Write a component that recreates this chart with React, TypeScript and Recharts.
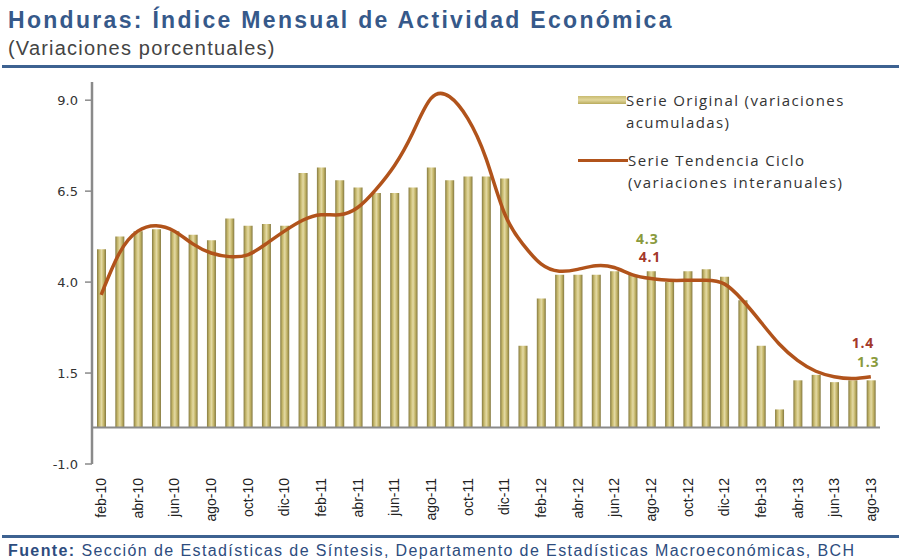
import React from 'react';
import {
  ComposedChart,
  Bar,
  Line,
  XAxis,
  YAxis,
  Legend,
  LabelList,
  ReferenceLine,
} from 'recharts';

// meses feb-10 .. ago-13
const months = [
  'feb-10', 'mar-10', 'abr-10', 'may-10', 'jun-10', 'jul-10', 'ago-10', 'sep-10', 'oct-10', 'nov-10', 'dic-10',
  'ene-11', 'feb-11', 'mar-11', 'abr-11', 'may-11', 'jun-11', 'jul-11', 'ago-11', 'sep-11', 'oct-11', 'nov-11', 'dic-11',
  'ene-12', 'feb-12', 'mar-12', 'abr-12', 'may-12', 'jun-12', 'jul-12', 'ago-12', 'sep-12', 'oct-12', 'nov-12', 'dic-12',
  'ene-13', 'feb-13', 'mar-13', 'abr-13', 'may-13', 'jun-13', 'jul-13', 'ago-13',
];

// Serie Original (variaciones acumuladas)
const serieOriginal = [
  4.9, 5.25, 5.4, 5.45, 5.4, 5.3, 5.15, 5.75, 5.55, 5.6, 5.55,
  7.0, 7.15, 6.8, 6.6, 6.45, 6.45, 6.6, 7.15, 6.8, 6.9, 6.9, 6.85,
  2.25, 3.55, 4.2, 4.2, 4.2, 4.3, 4.2, 4.3, 4.0, 4.3, 4.35, 4.15,
  3.5, 2.25, 0.5, 1.3, 1.45, 1.25, 1.3, 1.3,
];

// Serie Tendencia Ciclo (variaciones interanuales)
const serieTendencia = [
  3.65, 4.8, 5.4, 5.55, 5.4, 5.05, 4.8, 4.7, 4.75, 5.05, 5.4,
  5.7, 5.85, 5.85, 6.05, 6.55, 7.2, 8.1, 9.05, 9.1, 8.5, 7.4, 5.9,
  5.05, 4.5, 4.3, 4.35, 4.45, 4.4, 4.2, 4.1, 4.05, 4.05, 4.05, 3.95,
  3.5, 2.9, 2.3, 1.85, 1.55, 1.4, 1.35, 1.4,
];

const yTicks = [-1, 1.5, 4, 6.5, 9];

// meses con valor rotulado
const notedMonths = ['ago-12', 'ago-13'];

const data = months.map((m, i) => ({
  mes: m,
  original: serieOriginal[i],
  tendencia: serieTendencia[i],
}));

const BLUE = '#36598a';
const GREEN_NOTE = '#8a9a3c';
const RED_NOTE = '#a3382a';

// desplazamientos de los rótulos (solo estilo)
const barNoteOffset: Record<string, [number, number]> = { 'ago-12': [-4, -27], 'ago-13': [-3, -13] };
const lineNoteOffset: Record<string, [number, number]> = { 'ago-12': [-1, -16], 'ago-13': [-8, -29] };

const noteStyle = {
  fontFamily: '"Open Sans", sans-serif',
  fontWeight: 700,
  fontSize: 14,
  letterSpacing: 0.8,
};

const renderBarNote = (props: any) => {
  const { x, y, width, value, index } = props;
  const m = months[index];
  if (!notedMonths.includes(m)) return null;
  const [dx, dy] = barNoteOffset[m];
  return (
    <text x={x + width / 2 + dx} y={y + dy} textAnchor="middle" fill={GREEN_NOTE} style={noteStyle}>
      {Number(value).toFixed(1)}
    </text>
  );
};

const renderLineNote = (props: any) => {
  const { x, y, value, index } = props;
  const m = months[index];
  if (!notedMonths.includes(m)) return null;
  const [dx, dy] = lineNoteOffset[m];
  return (
    <text x={x + dx} y={y + dy} textAnchor="middle" fill={RED_NOTE} style={noteStyle}>
      {Number(value).toFixed(1)}
    </text>
  );
};

const MonthTick = (props: any) => {
  const { x, y, payload } = props;
  return (
    <text
      x={0}
      y={0}
      transform={`translate(${x + 5}, ${y + 6}) rotate(-90)`}
      textAnchor="end"
      fill="#222"
      style={{ fontFamily: '"Liberation Sans Narrow", "Liberation Sans", sans-serif', fontSize: 14 }}
    >
      {payload.value}
    </text>
  );
};

const LegendBox = () => {
  const txt: React.CSSProperties = {
    fontFamily: '"Open Sans", sans-serif',
    fontSize: 15,
    color: '#333',
    lineHeight: '22px',
    letterSpacing: 1.4,
  };
  return (
    <div>
      <div style={{ display: 'flex', alignItems: 'flex-start' }}>
        <div
          style={{
            width: 48,
            height: 8,
            marginTop: 7,
            background: 'linear-gradient(180deg, #c8bb70 0%, #e2d79c 50%, #b9ab5c 100%)',
          }}
        />
        <div style={txt}>
          Serie Original (variaciones
          <br />
          acumuladas)
        </div>
      </div>
      <div style={{ display: 'flex', alignItems: 'flex-start', marginTop: 16 }}>
        <div style={{ width: 50, height: 3, marginTop: 10, background: '#b1531b' }} />
        <div style={txt}>
          Serie Tendencia Ciclo
          <br />
          (variaciones interanuales)
        </div>
      </div>
    </div>
  );
};

export default function App() {
  return (
    <div
      style={{
        position: 'absolute',
        left: 0,
        top: 0,
        width: 899,
        height: 559,
        background: '#fff',
        overflow: 'hidden',
      }}
    >
      <div
        style={{
          position: 'absolute',
          left: 8,
          top: 7,
          fontFamily: '"Liberation Sans", Arial, sans-serif',
          fontWeight: 700,
          fontSize: 23,
          letterSpacing: 2.3,
          color: BLUE,
          whiteSpace: 'nowrap',
        }}
      >
        Honduras: Índice Mensual de Actividad Económica
      </div>
      <div
        style={{
          position: 'absolute',
          left: 8,
          top: 37,
          fontFamily: '"Liberation Sans", Arial, sans-serif',
          fontSize: 20,
          letterSpacing: 1.2,
          color: '#444',
          whiteSpace: 'nowrap',
        }}
      >
        (Variaciones porcentuales)
      </div>
      <div style={{ position: 'absolute', left: 2, right: 0, top: 65, height: 3, background: '#3d6291' }} />

      <div style={{ position: 'absolute', left: 0, top: 0 }}>
        <ComposedChart
          width={899}
          height={559}
          data={data}
          margin={{ top: 82, right: 19, bottom: 0, left: 32 }}
          barSize={9}
        >
          <defs>
            <linearGradient id="barGold" x1="0" y1="0" x2="1" y2="0">
              <stop offset="0%" stopColor="#857a40" />
              <stop offset="25%" stopColor="#c6b86c" />
              <stop offset="50%" stopColor="#e4daa4" />
              <stop offset="75%" stopColor="#c2b366" />
              <stop offset="100%" stopColor="#837840" />
            </linearGradient>
          </defs>
          <XAxis
            dataKey="mes"
            interval={1}
            axisLine={false}
            tickLine={false}
            height={95}
            tick={<MonthTick />}
          />
          <YAxis
            domain={[-1, 9.5]}
            ticks={yTicks}
            width={60}
            allowDataOverflow
            axisLine={{ stroke: '#8a8a8a', strokeWidth: 2.5 }}
            tickLine={{ stroke: '#8a8a8a', strokeWidth: 1.5 }}
            tickSize={7}
            tickMargin={7}
            tickFormatter={(v) => Number(v).toFixed(1)}
            tick={{ fontSize: 13, fill: '#333', fontFamily: '"DejaVu Sans", sans-serif' }}
          />
          <ReferenceLine y={0} stroke="#8a8a8a" strokeWidth={2} />
          <Legend
            layout="vertical"
            align="center"
            verticalAlign="middle"
            content={<LegendBox />}
            wrapperStyle={{ left: 578, top: 89, width: 310, height: 110 }}
          />
          <Bar dataKey="original" fill="url(#barGold)" isAnimationActive={false}>
            <LabelList dataKey="original" content={renderBarNote} />
          </Bar>
          <Line
            type="natural"
            dataKey="tendencia"
            stroke="#b1531b"
            strokeWidth={3.5}
            dot={false}
            activeDot={false}
            isAnimationActive={false}
          >
            <LabelList dataKey="tendencia" content={renderLineNote} />
          </Line>
        </ComposedChart>
      </div>

      <div style={{ position: 'absolute', left: 2, right: 0, top: 535, height: 3, background: '#3d6291' }} />
      <div
        style={{
          position: 'absolute',
          left: 8,
          top: 542,
          fontFamily: '"Liberation Sans", Arial, sans-serif',
          fontSize: 16,
          letterSpacing: 1.4,
          color: '#2d4c7e',
          whiteSpace: 'nowrap',
        }}
      >
        <b>Fuente:</b> Sección de Estadísticas de Síntesis, Departamento de Estadísticas Macroeconómicas, BCH
      </div>
    </div>
  );
}
